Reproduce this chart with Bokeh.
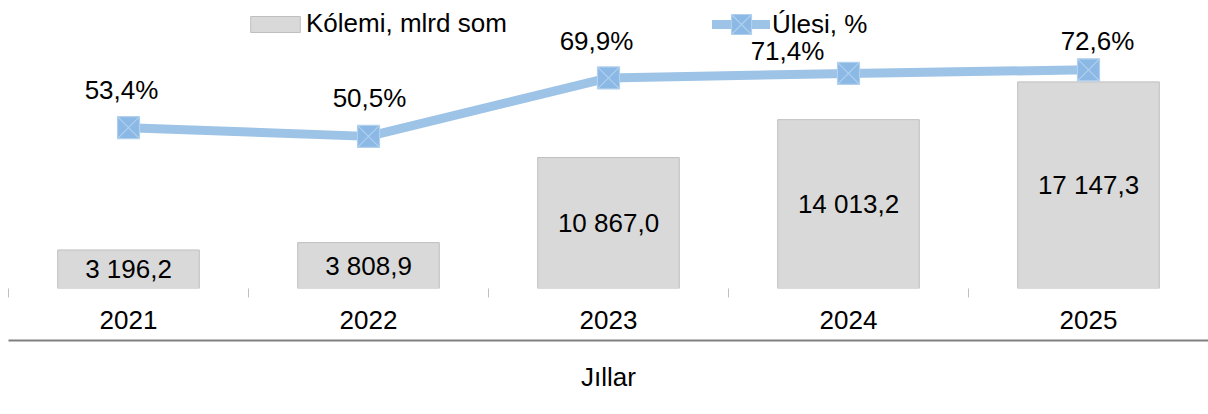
from bokeh.plotting import figure
from bokeh.models import (Range1d, LinearAxis, FixedTicker,
                          Legend, LegendItem, ColumnDataSource, CustomJSTickFormatter)
from bokeh.core.properties import value
from bokeh.embed import file_html
from bokeh.resources import INLINE

years = ["2021", "2022", "2023", "2024", "2025"]
volume = [3196.2, 3808.9, 10867.0, 14013.2, 17147.3]
share = [53.4, 50.5, 69.9, 71.4, 72.6]

FONT = "Liberation Sans"
FS = "26px"


def fmt_num(v):
    return f"{v:,.1f}".replace(",", " ").replace(".", ",")


def fmt_pct(v):
    return f"{v:.1f}".replace(".", ",") + "%"


# label nudges (screen px) for the percentage labels
pct_dx = [-7, 1, -12, -61, 9]
pct_dy = [-38, -38, -37, -22, -29]

xs = [i + 0.5 for i in range(len(years))]  # category centres on a 0..N axis

src = ColumnDataSource(dict(
    x=xs,
    vol=volume,
    vol_mid=[v / 2 for v in volume],
    vol_lbl=[fmt_num(v) for v in volume],
    pct=share,
    pct_lbl=[fmt_pct(v) for v in share],
    dx=pct_dx,
    dy=pct_dy,
))

p = figure(x_range=Range1d(0, len(years)),
           y_range=Range1d(0, 23237),
           frame_width=1200, frame_height=280,
           x_axis_location=None, y_axis_location=None,
           output_backend="svg", toolbar_location=None,
           min_border=0, min_border_left=8, min_border_right=0,
           min_border_top=8, min_border_bottom=0)
p.extra_y_ranges = {"pct": Range1d(0, 92.95)}
p.outline_line_color = None
p.grid.visible = False
p.background_fill_color = "white"
p.border_fill_color = "white"

bars = p.vbar(x="x", top="vol", width=0.59, source=src,
              fill_color="#d9d9d9", line_color="#bfbfbf", line_width=1)
p.text(x="x", y="vol_mid", text="vol_lbl", source=src,
       text_font=value(FONT), text_font_size=FS, text_color="#000000",
       text_align="center", text_baseline="middle")

ln = p.line(x="x", y="pct", source=src, y_range_name="pct",
            line_color="#9dc3e6", line_width=9, line_cap="round")
mk = p.scatter(x="x", y="pct", source=src, y_range_name="pct", marker="square_x",
               size=22, fill_color="#8bb8e4", line_color="#b0d0ee", line_width=1.2)
p.text(x="x", y="pct", text="pct_lbl", source=src, y_range_name="pct",
       x_offset="dx", y_offset="dy",
       text_font=value(FONT), text_font_size=FS, text_color="#000000",
       text_align="center", text_baseline="middle")

# boundary ticks between categories
ax_ticks = LinearAxis(ticker=FixedTicker(ticks=list(range(len(years) + 1))),
                      major_tick_in=0, major_tick_out=9, major_tick_line_color="#bfbfbf",
                      minor_tick_line_color=None, axis_line_color=None,
                      major_label_text_font_size="0px", major_label_standoff=0,
                      formatter=CustomJSTickFormatter(code="return ''"))
p.add_layout(ax_ticks, "below")

# year labels
ax_cat = LinearAxis(ticker=FixedTicker(ticks=xs),
                    formatter=CustomJSTickFormatter(args=dict(years=years),
                                                    code="return years[Math.floor(tick)]"),
                    major_tick_line_color=None, minor_tick_line_color=None,
                    axis_line_color=None, major_label_standoff=7,
                    major_label_text_font=FONT, major_label_text_font_size=FS,
                    major_label_text_color="#000000",
                    axis_label=" ", axis_label_text_font_size="5px", axis_label_standoff=0)
p.add_layout(ax_cat, "below")

# separator line + axis title
ax_title = LinearAxis(ticker=FixedTicker(ticks=[]),
                      major_tick_line_color=None, minor_tick_line_color=None,
                      axis_line_color="#808080", axis_line_width=2,
                      major_label_text_font_size="0px",
                      formatter=CustomJSTickFormatter(code="return ''"),
                      axis_label="Jıllar", axis_label_standoff=21,
                      axis_label_text_font=FONT, axis_label_text_font_size=FS,
                      axis_label_text_font_style="normal", axis_label_text_color="#000000")
p.add_layout(ax_title, "below")

legend_bar = Legend(items=[LegendItem(label="Kólemi, mlrd som", renderers=[bars])],
                    orientation="horizontal", location=(236, 249),
                    glyph_width=62, glyph_height=20, padding=0, margin=0,
                    label_standoff=0, label_text_font=FONT, label_text_font_size=FS,
                    label_text_color="#000000", border_line_color=None,
                    background_fill_alpha=0)
legend_line = Legend(items=[LegendItem(label="Úlesi, %", renderers=[ln, mk])],
                     orientation="horizontal", location=(704, 239),
                     glyph_width=58, glyph_height=50, padding=0, margin=0,
                     label_standoff=2, label_text_font=FONT, label_text_font_size=FS,
                     label_text_color="#000000", border_line_color=None,
                     background_fill_alpha=0)
p.add_layout(legend_bar, "center")
p.add_layout(legend_line, "center")

open("out.html", "w").write(file_html(p, INLINE))
